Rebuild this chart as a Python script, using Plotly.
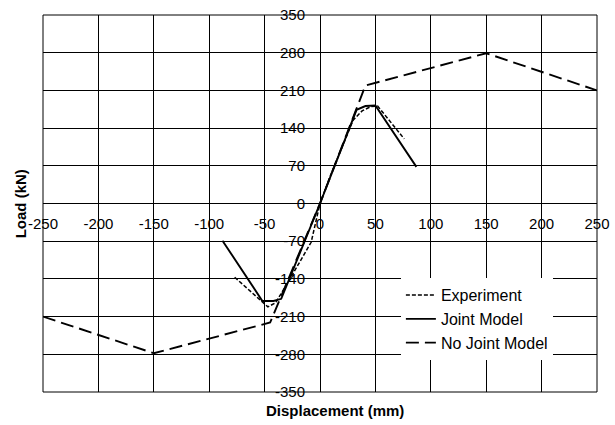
import plotly.graph_objects as go

# ---- data ----
exp_x = [-77, -47, -40, -35, -28, -8, 0, 10, 20, 30, 38, 46, 52, 76]
exp_y = [-137, -192, -184, -168, -143, -72, 0, 55, 105, 155, 172, 180, 181, 120]

joint_x = [-88, -52, -42, -35, 0, 33, 41, 50, 87]
joint_y = [-69, -181, -181, -177, 0, 174, 181, 182, 68]

nojoint_x = [-250, -150, -45, 0, 41, 150, 250]
nojoint_y = [-210, -278, -221, 0, 219, 279, 210]

x_ticks = [-250, -200, -150, -100, -50, 0, 50, 100, 150, 200, 250]
y_ticks = [-350, -280, -210, -140, -70, 0, 70, 140, 210, 280, 350]

FONT = "Liberation Sans, Arial, sans-serif"

fig = go.Figure()
fig.add_trace(go.Scatter(x=exp_x, y=exp_y, mode="lines", name="Experiment",
                         line=dict(color="black", width=1.5, dash="4px,2px")))
fig.add_trace(go.Scatter(x=joint_x, y=joint_y, mode="lines", name="Joint Model",
                         line=dict(color="black", width=1.9)))
fig.add_trace(go.Scatter(x=nojoint_x, y=nojoint_y, mode="lines", name="No Joint Model",
                         line=dict(color="black", width=1.9, dash="13px,6px")))

fig.update_layout(
    width=615, height=425,
    margin=dict(l=43, r=18, t=15, b=33),
    paper_bgcolor="white", plot_bgcolor="white",
    font=dict(family=FONT, size=15, color="black"),
    showlegend=True,
    legend=dict(x=0.646, y=0.302, xanchor="left", yanchor="top",
                bgcolor="white", borderwidth=0, font=dict(size=16),
                tracegroupgap=0),
    xaxis=dict(range=[-250, 250], tickvals=x_ticks, ticktext=[str(v) for v in x_ticks],
               showgrid=True, gridcolor="black", gridwidth=1,
               zeroline=True, zerolinecolor="black", zerolinewidth=1,
               showline=False, automargin=False, ticklabeloverflow="allow",
               anchor="free", position=0.5, side="bottom",
               ticks="outside", ticklen=6, tickcolor="rgba(0,0,0,0)",
               tickfont=dict(size=15)),
    yaxis=dict(range=[-350, 350], tickvals=y_ticks, ticktext=[str(v) for v in y_ticks],
               showgrid=True, gridcolor="black", gridwidth=1,
               zeroline=True, zerolinecolor="black", zerolinewidth=1,
               showline=False, automargin=False, ticklabeloverflow="allow",
               anchor="free", position=0.5, side="left",
               ticks="outside", ticklen=12, tickcolor="rgba(0,0,0,0)",
               tickfont=dict(size=15)),
    shapes=[dict(type="rect", xref="paper", yref="paper", x0=0, x1=1, y0=0, y1=1,
                 line=dict(color="black", width=1), layer="above")],
    annotations=[
        dict(text="<b>Displacement (mm)</b>", xref="paper", yref="paper",
             x=0.527, y=0, yshift=-18, xanchor="center", yanchor="middle",
             showarrow=False, font=dict(size=15)),
        dict(text="<b>Load (kN)</b>", xref="paper", yref="paper",
             x=-0.04, y=0.5, xanchor="center", yanchor="middle", textangle=-90,
             showarrow=False, font=dict(size=15)),
    ],
)

# remove the default 8px page margin so the figure sits at the window's corner
fig.write_html("out.html", config={"displayModeBar": False},
               post_script="document.body.style.margin='0px';")
